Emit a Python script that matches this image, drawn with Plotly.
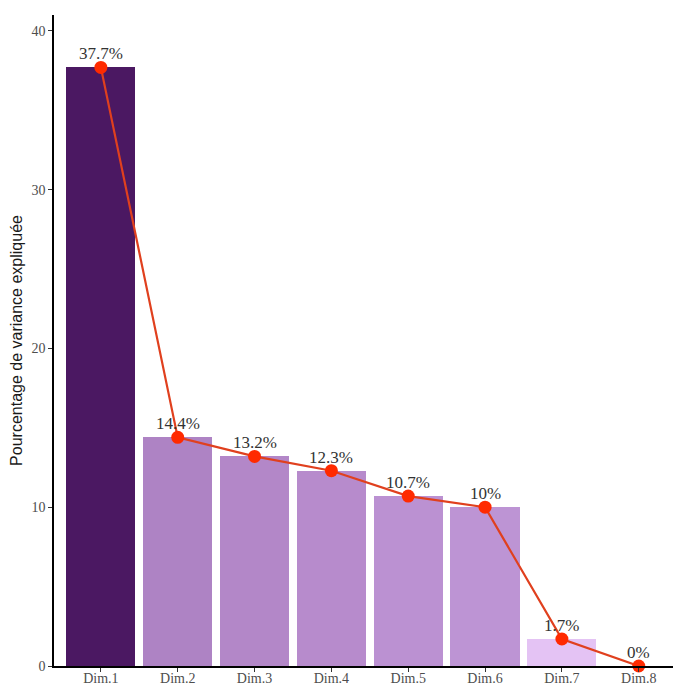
import plotly.graph_objects as go

dims = ["Dim.1", "Dim.2", "Dim.3", "Dim.4", "Dim.5", "Dim.6", "Dim.7", "Dim.8"]
variance = [37.7, 14.4, 13.2, 12.3, 10.7, 10.0, 1.7, 0.0]
labels = ["37.7%", "14.4%", "13.2%", "12.3%", "10.7%", "10%", "1.7%", "0%"]
bar_colors = ["#4B1862", "#AE83C4", "#B387C8", "#B78BCC", "#BB91D2", "#BD94D4", "#E4C3F4", "#F0DDF8"]

x = list(range(len(dims)))

fig = go.Figure()
fig.add_trace(go.Bar(
    x=x, y=variance, width=0.9, marker=dict(color=bar_colors, line=dict(width=0)),
    hoverinfo="skip", showlegend=False,
))
fig.add_trace(go.Scatter(
    x=x, y=variance, mode="lines+markers",
    line=dict(color="#E0401E", width=2.2),
    marker=dict(color="#FF2A00", size=13, line=dict(width=0)),
    showlegend=False, cliponaxis=False,
))
for xi, v, lab in zip(x, variance, labels):
    fig.add_annotation(
        x=xi, y=v, text=lab, showarrow=False, yanchor="bottom", xanchor="center",
        yshift=2, font=dict(family="Liberation Serif", size=17, color="#333333"),
    )

fig.update_layout(
    width=673, height=678,
    margin=dict(l=46, r=0, t=7, b=20),
    plot_bgcolor="white", paper_bgcolor="white",
    font=dict(family="Liberation Serif", color="#4D4D4D"),
    bargap=0,
    xaxis=dict(
        range=[-0.61, 7.55], tickmode="array", tickvals=x, ticktext=dims,
        showline=True, linecolor="black", linewidth=1.5,
        ticks="outside", ticklen=4, tickcolor="#333333", tickwidth=1,
        ticklabelstandoff=-6,
        showgrid=False, zeroline=False, automargin=False,
        tickfont=dict(size=14, color="#4D4D4D"),
    ),
    yaxis=dict(
        range=[0, 41], tickvals=[0, 10, 20, 30, 40],
        showline=True, linecolor="black", linewidth=1.5,
        ticks="outside", ticklen=4, tickcolor="#333333", tickwidth=1,
        showgrid=False, zeroline=False, automargin=False,
        tickfont=dict(size=14, color="#4D4D4D"),
        title=dict(text="Pourcentage de variance expliquée",
                   font=dict(family="Liberation Sans", size=16, color="#1A1A1A"), standoff=6),
    ),
)

fig.write_html("out.html")
